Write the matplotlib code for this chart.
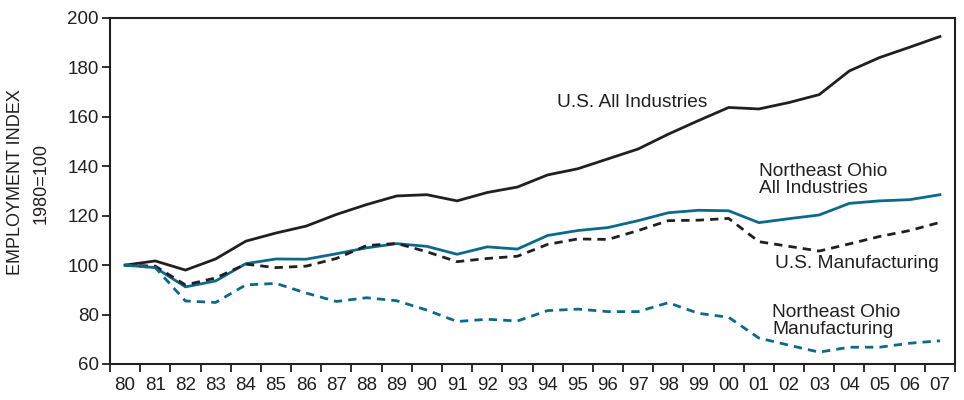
import matplotlib.pyplot as plt
import numpy as np

years = ["80", "81", "82", "83", "84", "85", "86", "87", "88", "89",
         "90", "91", "92", "93", "94", "95", "96", "97", "98", "99",
         "00", "01", "02", "03", "04", "05", "06", "07"]

us_all = [100, 101.7, 98, 102.5, 109.7, 113, 115.8, 120.5, 124.5, 128,
          128.5, 126, 129.4, 131.6, 136.5, 139, 143, 147, 153, 158.5,
          163.8, 163.2, 165.8, 169, 178.6, 184, 188.2, 192.5]
neo_all = [100, 99, 91.2, 93.6, 100.6, 102.5, 102.4, 104.6, 107, 108.7,
           107.6, 104.4, 107.4, 106.5, 112, 114, 115.2, 118, 121.2, 122.2,
           122, 117.2, 118.8, 120.3, 125, 126, 126.5, 128.5]
us_mfg = [100, 99.6, 92, 94.8, 100.4, 99, 99.6, 102.7, 107.9, 108.8,
          105.4, 101.4, 102.7, 103.6, 108.4, 110.6, 110.4, 114, 118, 118.2,
          118.9, 109.5, 107.6, 105.7, 108.6, 111.6, 114, 117.3]
neo_mfg = [100, 99, 85.5, 84.9, 92, 92.6, 88.7, 85.3, 86.8, 85.6,
           81.8, 77.2, 78.1, 77.4, 81.6, 82.2, 81.2, 81.2, 84.8, 80.5,
           78.9, 70.5, 67.6, 64.8, 66.8, 66.8, 68.4, 69.4]

black = "#231f20"
blue = "#0b6a8c"

plt.rcParams["font.family"] = ["Liberation Sans", "DejaVu Sans"]

fig = plt.figure(figsize=(9.64, 4.0), dpi=100)
ax = fig.add_axes([0.1141, 0.09, 0.8766, 0.865])

x = np.arange(len(years))
ax.plot(x, us_all, color=black, lw=2.0)
ax.plot(x, neo_all, color=blue, lw=2.0)
ax.plot(x, us_mfg, color=black, lw=2.0, dashes=(3, 2.2))
ax.plot(x, neo_mfg, color=blue, lw=2.0, dashes=(3, 2.2))

ax.set_xlim(-0.5, len(years) - 0.5)
ax.set_ylim(60, 200)
ax.set_yticks(range(60, 201, 20))
# ticks sit between the years, labels centred under each year
ax.set_xticks(np.arange(len(years) + 1) - 0.5)
ax.set_xticklabels([])
ax.set_xticks(x, minor=True)
ax.set_xticklabels(years, minor=True)
ax.tick_params(axis="x", which="minor", length=0, labelsize=13.5, pad=9, colors=black)
ax.tick_params(axis="x", which="major", length=6, width=1.3, direction="out", color=black)
ax.tick_params(axis="y", length=6, width=1.3, labelsize=13.5, pad=2, colors=black)

for s in ax.spines.values():
    s.set_linewidth(1.5)
    s.set_color(black)

fig.text(0.016, 0.545, "EMPLOYMENT INDEX", rotation=90, ha="center", va="center",
         fontsize=13, color=black)
fig.text(0.043, 0.54, "1980=100", rotation=90, ha="center", va="center",
         fontsize=13, color=black)

txt = dict(fontsize=13.8, color=black, va="center", linespacing=1.02)
ax.text(14.3, 165.7, "U.S. All Industries", **txt)
ax.text(21.0, 134.4, "Northeast Ohio\nAll Industries", **txt)
ax.text(21.55, 100.7, "U.S. Manufacturing", **txt)
ax.text(21.45, 77.4, "Northeast Ohio\nManufacturing", **txt)

fig.savefig("out.png", dpi=100)
